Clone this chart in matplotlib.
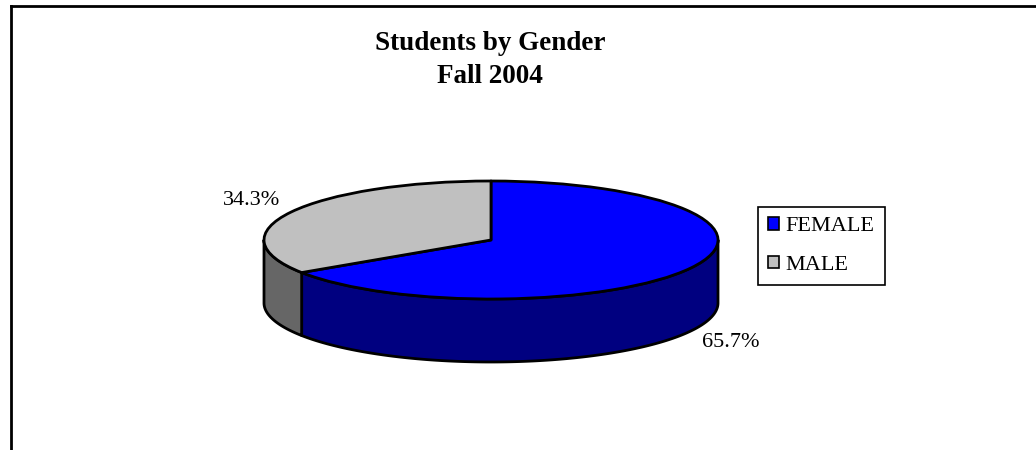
import matplotlib
matplotlib.use('Agg')
import matplotlib.pyplot as plt
import numpy as np
from matplotlib.lines import Line2D
from matplotlib.patches import Polygon, Patch

# ---- data ----
categories = ['FEMALE', 'MALE']
values = [65.7, 34.3]
top_colors = ['#0000FF', '#C0C0C0']
side_colors = ['#000080', '#666666']
title_lines = ['Students by Gender', 'Fall 2004']

SERIF = ['Liberation Serif', 'DejaVu Serif']
W, H = 1036, 450
fig = plt.figure(figsize=(W / 100, H / 100), dpi=100)
fig.patch.set_facecolor('white')

# pie geometry (pixels)
cx, cy = 491, 240
a_px, b_px, depth_px = 227, 59, 63
depth = depth_px / b_px
ax = fig.add_axes([(cx - a_px) / W, (H - (cy + b_px + depth_px)) / H,
                   2 * a_px / W, (2 * b_px + depth_px) / H])

startangle = 90
wedges, _ = ax.pie(values, colors=top_colors, startangle=startangle,
                   counterclock=False, radius=1, center=(0, 0),
                   wedgeprops=dict(edgecolor='black', linewidth=2, zorder=3))
ax.set_aspect('auto')
ax.set_xlim(-1, 1)
ax.set_ylim(-1 - depth, 1)
ax.axis('off')
for w in wedges:
    w.set_clip_on(False)
    w.set_joinstyle('round')

# side faces
total = sum(values)
bounds = startangle - 360 * np.concatenate([[0], np.cumsum(values)]) / total
for i in range(len(values)):
    hi, lo = bounds[i], bounds[i + 1]
    for k in (-1, 0, 1):
        s0, s1 = -180 + 360 * k, 360 * k
        a0, a1 = max(lo, s0), min(hi, s1)
        if a1 - a0 <= 0:
            continue
        t = np.radians(np.linspace(a0, a1, 200))
        xs = np.concatenate([np.cos(t), np.cos(t[::-1])])
        ys = np.concatenate([np.sin(t), np.sin(t[::-1]) - depth])
        poly = Polygon(np.column_stack([xs, ys]), closed=True,
                       facecolor=side_colors[i], edgecolor='black',
                       linewidth=2, zorder=2, joinstyle='round')
        poly.set_clip_on(False)
        ax.add_patch(poly)

# percentage labels
rx, ry = 1.2, 1.42
for i in range(len(values)):
    mid = np.radians((bounds[i] + bounds[i + 1]) / 2)
    x = rx * np.cos(mid)
    y = ry * np.sin(mid) - (depth if np.sin(mid) < 0 else 0)
    ax.text(x, y, f'{values[i]:.1f}%', ha='center', va='center',
            fontsize=16, family=SERIF, clip_on=False)

# title
fig.text(490 / W, 1 - 50 / H, title_lines[0], ha='center', va='baseline',
         fontsize=19.5, fontweight='bold', family=SERIF)
fig.text(490 / W, 1 - 83 / H, title_lines[1], ha='center', va='baseline',
         fontsize=19.5, fontweight='bold', family=SERIF)

# legend
handles = [Patch(facecolor=c, edgecolor='black', linewidth=1.2) for c in top_colors]
leg = fig.legend(handles, categories, loc='upper left',
                 bbox_to_anchor=(758 / W, 1 - 207 / H), borderaxespad=0,
                 frameon=True, fancybox=False, framealpha=1, edgecolor='black',
                 prop=dict(family=SERIF, size=16), handlelength=0.5,
                 handleheight=0.5, handletextpad=0.3, borderpad=0.45,
                 labelspacing=0.87)
leg.get_frame().set_linewidth(1.2)

# outer chart border (top and left visible)
fig.add_artist(Line2D([11 / W, 1.0], [1 - 6 / H, 1 - 6 / H], color='black',
                      linewidth=2, transform=fig.transFigure))
fig.add_artist(Line2D([11 / W, 11 / W], [1 - 6 / H, 0], color='black',
                      linewidth=2, transform=fig.transFigure))

fig.savefig('out.png', dpi=100, facecolor='white')
